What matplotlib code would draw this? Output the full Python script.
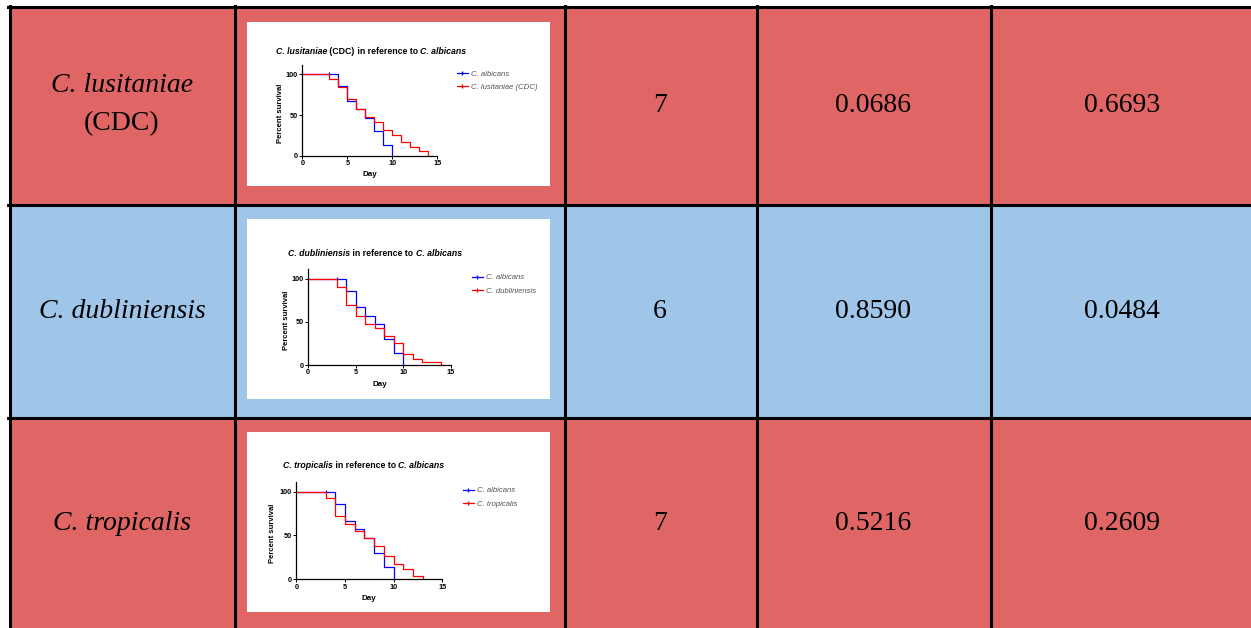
import numpy as np
import matplotlib.pyplot as plt
from matplotlib.patches import Rectangle
from matplotlib.lines import Line2D

# table data
species_main = ["C. lusitaniae", "C. dubliniensis", "C. tropicalis"]
species_extra = ["(CDC)", "", ""]
n_values = ["7", "6", "7"]
col4_values = ["0.0686", "0.8590", "0.5216"]
col5_values = ["0.6693", "0.0484", "0.2609"]
row_colors = ["#E06666", "#9FC5E8", "#E06666"]

# survival curves (Day, Percent survival)
albicans_days = [0, 4, 5, 6, 7, 8, 9, 10]
albicans_surv = [100, 86, 67, 57, 47, 30, 14, 0]
albicans_censor = [3]

lusit_days = [0, 3, 4, 5, 6, 7, 8, 9, 10, 11, 12, 13, 14]
lusit_surv = [100, 94, 85, 70, 58, 48, 41, 32, 26, 17, 11, 6, 0]

dubl_days = [0, 3, 4, 5, 6, 7, 8, 9, 10, 11, 12, 14]
dubl_surv = [100, 90, 69, 57, 47, 43, 34, 25, 13, 6.5, 3, 0]

trop_days = [0, 3, 4, 5, 6, 7, 8, 9, 10, 11, 12, 13]
trop_surv = [100, 93, 72, 63, 55, 47, 38, 27, 18, 12, 3.5, 0]

other_names = ["C. lusitaniae", "C. dubliniensis", "C. tropicalis"]
other_extra = [" (CDC)", "", ""]
other_days = [lusit_days, dubl_days, trop_days]
other_surv = [lusit_surv, dubl_surv, trop_surv]

W, H = 1251, 628
fig = plt.figure(figsize=(W / 100, H / 100), dpi=100)
ax = fig.add_axes([0, 0, 1, 1])
ax.set_xlim(0, W)
ax.set_ylim(H, 0)
ax.axis("off")

xs = [9.5, 234.5, 564.5, 756.5, 990.5, W + 5]
ys = [7, 205, 417.5, H + 5]

# cell backgrounds
for r in range(3):
    ax.add_patch(Rectangle((xs[0], ys[r]), W - xs[0], ys[r + 1] - ys[r],
                           facecolor=row_colors[r], edgecolor="none", zorder=0))

# grid lines
lw = 2.2
for x in xs[:-1]:
    ax.plot([x, x], [ys[0] - 1.5, H], color="black", lw=lw, zorder=3)
for y in ys[:-1]:
    ax.plot([xs[0] - 1.5, W], [y, y], color="black", lw=lw, zorder=3)

serif = "Liberation Serif"
fs = 20
centers = [105, 311, 523]
for r in range(3):
    cy = centers[r]
    if species_extra[r]:
        ax.text(122, cy - 20, species_main[r], family=serif, style="italic",
                fontsize=fs, ha="center", va="center")
        ax.text(122, cy + 19, species_extra[r], family=serif,
                fontsize=fs, ha="center", va="center")
    else:
        ax.text(122, cy, species_main[r], family=serif, style="italic",
                fontsize=fs, ha="center", va="center")
    ax.text(660, cy, n_values[r], family=serif, fontsize=fs, ha="center", va="center")
    ax.text(873, cy, col4_values[r], family=serif, fontsize=fs, ha="center", va="center")
    ax.text(1122, cy, col5_values[r], family=serif, fontsize=fs, ha="center", va="center")

# white chart boxes
boxes = [(247, 22, 303, 164), (247, 219, 303, 180), (247, 432, 303, 180)]
for bx, by, bw, bh in boxes:
    ax.add_patch(Rectangle((bx, by), bw, bh, facecolor="white", edgecolor="none", zorder=1))

# axes boxes in pixels: left, right, y0, top
ax_px = [(302.3, 437.3, 156, 65.3), (308, 451, 365, 269), (296.3, 442.3, 579.3, 482)]
title_pos = [(276, 51), (288, 253), (283, 466)]
legend_pos = [(457, 70.5), (472, 274), (463, 487)]
ylabel_x = [281, 286, 273]
day_y = [175, 385, 599]

sans = "Liberation Sans"
fig.canvas.draw()
renderer = fig.canvas.get_renderer()


def draw_pieces(x, y, pieces):
    inv = ax.transData.inverted()
    for txt, style in pieces:
        t = ax.text(x, y, txt, family=sans, fontweight="bold", style=style,
                    fontsize=6.3, ha="left", va="center", zorder=5)
        bb = t.get_window_extent(renderer)
        x = inv.transform((bb.x1, bb.y0))[0]


for i in range(3):
    l, r, y0, top = ax_px[i]
    ymax = 111
    sub = fig.add_axes([l / W, (H - y0) / H, (r - l) / W, (y0 - top) / H])
    sub.patch.set_alpha(0)
    sub.step(albicans_days, albicans_surv, where="post", color="blue", lw=0.9)
    sub.plot(albicans_censor, [100] * len(albicans_censor), marker="|", color="blue",
             ms=3, mew=0.8, ls="none")
    sub.step(other_days[i], other_surv[i], where="post", color="red", lw=0.9)
    sub.set_xlim(0, 15)
    sub.set_ylim(0, ymax)
    sub.set_xticks([0, 5, 10, 15])
    sub.set_yticks([0, 50, 100])
    sub.spines["top"].set_visible(False)
    sub.spines["right"].set_visible(False)
    for s in ["left", "bottom"]:
        sub.spines[s].set_linewidth(0.9)
    sub.tick_params(length=2, width=0.7, pad=1.2, labelsize=5.2)
    for lab in sub.get_xticklabels() + sub.get_yticklabels():
        lab.set_fontweight("bold")
        lab.set_family(sans)

    tx, ty = title_pos[i]
    pieces = [(other_names[i], "italic")]
    if other_extra[i]:
        pieces.append((other_extra[i], "normal"))
    pieces += [(" in reference to ", "normal"), ("C. albicans", "italic")]
    draw_pieces(tx, ty, pieces)

    ax.text(ylabel_x[i], (y0 + top) / 2 + 3, "Percent survival", rotation=90,
            family=sans, fontweight="bold", fontsize=5.5, ha="center", va="center", zorder=5)
    ax.text((l + r) / 2, day_y[i], "Day", family=sans, fontweight="bold",
            fontsize=5.8, ha="center", va="center", zorder=5)

    handles = [Line2D([], [], color="blue", lw=0.9, marker="|", ms=3),
               Line2D([], [], color="red", lw=0.9, marker="|", ms=3)]
    lx, ly = legend_pos[i]
    leg = sub.legend(handles, ["C. albicans", other_names[i] + other_extra[i]],
                     loc="upper left", bbox_to_anchor=(lx / W, 1 - ly / H),
                     bbox_transform=fig.transFigure, frameon=False,
                     prop={"family": sans, "style": "italic", "size": 5.6},
                     handlelength=1.4, handletextpad=0.4, labelspacing=0.75,
                     borderaxespad=0, borderpad=0)
    for t in leg.get_texts():
        t.set_color("#555555")

fig.savefig("out.png", dpi=100)
